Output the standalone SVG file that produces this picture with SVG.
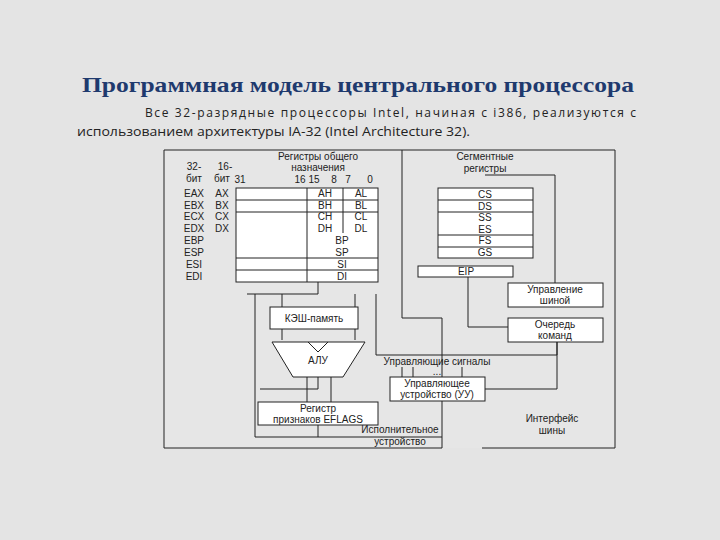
<svg xmlns="http://www.w3.org/2000/svg" width="720" height="540" viewBox="0 0 720 540">
<style>
.t{font-family:"Liberation Sans",Arial,sans-serif;font-size:10px;fill:#222;text-anchor:middle}
.l{fill:none;stroke:#222;stroke-width:1}
.b{fill:#fff;stroke:#222;stroke-width:1}
</style>
<rect width="720" height="540" fill="#e4e4e4"/>
<text x="358" y="92" font-family="'Liberation Serif','DejaVu Serif',serif" font-weight="bold" font-size="22" fill="#1f3a6e" text-anchor="middle" textLength="552" lengthAdjust="spacingAndGlyphs">Программная модель центрального процессора</text>
<text x="145" y="117" font-family="'Open Sans','Liberation Sans',sans-serif" font-size="12" fill="#222" textLength="491" lengthAdjust="spacing">Все 32-разрядные процессоры Intel, начиная с i386, реализуются с</text>
<text x="77" y="136" font-family="'Open Sans','Liberation Sans',sans-serif" font-size="12" fill="#222" textLength="393" lengthAdjust="spacingAndGlyphs">использованием архитектуры IA-32 (Intel Architecture 32).</text>
<rect x="164" y="150" width="451" height="298" fill="#e6e6e6" stroke="none"/>
<g id="connectors" class="l">
<path d="M164 448V150H615V448H482"/>
<path d="M442 448H164"/>
<path d="M402 150V318H442V377"/>
<path d="M318 282V294H247"/>
<path d="M255 294V437H442"/>
<path d="M282 294V340M355 294V340"/>
<path d="M376 294V355H557V327M557 342V389H485"/>
<path d="M307 377V402M318 377V389H260M331 377V402"/>
<path d="M318 425V437"/>
<path d="M442 401V448"/>
<path d="M402 367V377M413 367V377M462 367V377"/>
<path d="M468 277V327H508"/>
<path d="M485 175H555V283"/>
</g>
<g id="gp-registers">
<text class="t" x="318" y="160">Регистры общего</text>
<text class="t" x="318" y="171">назначения</text>
<text class="t" x="240" y="183">31</text>
<text class="t" x="307" y="183">16 15</text>
<text class="t" x="334" y="183">8</text>
<text class="t" x="348" y="183">7</text>
<text class="t" x="370" y="183">0</text>
<text class="t" x="194" y="170">32-</text><text class="t" x="194" y="182">бит</text>
<text class="t" x="225" y="170">16-</text><text class="t" x="222" y="182">бит</text>
<rect class="b" x="236" y="188" width="142" height="94"/>
<path class="l" d="M236 200H378M236 212H378M236 258H378M236 270H378M307 188V282M343 188V233"/>
<text class="t" x="194" y="197">EAX</text><text class="t" x="194" y="209">EBX</text><text class="t" x="194" y="220">ECX</text><text class="t" x="194" y="232">EDX</text>
<text class="t" x="194" y="244">EBP</text><text class="t" x="194" y="256">ESP</text><text class="t" x="194" y="268">ESI</text><text class="t" x="194" y="280">EDI</text>
<text class="t" x="222" y="197">AX</text><text class="t" x="222" y="209">BX</text><text class="t" x="222" y="220">CX</text><text class="t" x="222" y="232">DX</text>
<text class="t" x="325" y="197">AH</text><text class="t" x="361" y="197">AL</text>
<text class="t" x="325" y="209">BH</text><text class="t" x="361" y="209">BL</text>
<text class="t" x="325" y="220">CH</text><text class="t" x="361" y="220">CL</text>
<text class="t" x="325" y="232">DH</text><text class="t" x="361" y="232">DL</text>
<text class="t" x="342" y="244">BP</text><text class="t" x="342" y="256">SP</text>
<text class="t" x="342" y="268">SI</text><text class="t" x="342" y="280">DI</text>
</g>
<g id="seg-registers">
<text class="t" x="485" y="160">Сегментные</text>
<text class="t" x="485" y="172">регистры</text>
<rect class="b" x="438" y="188" width="95" height="70"/>
<path class="l" d="M438 200H533M438 212H533M438 235H533M438 247H533"/>
<text class="t" x="485" y="198">CS</text><text class="t" x="485" y="210">DS</text><text class="t" x="485" y="221">SS</text>
<text class="t" x="485" y="233">ES</text><text class="t" x="485" y="244">FS</text><text class="t" x="485" y="256">GS</text>
</g>
<g id="eip"><rect class="b" x="418" y="266" width="95" height="11"/><text class="t" x="466" y="275">EIP</text></g>
<g id="bus-ctrl"><rect class="b" x="508" y="283" width="95" height="24"/><text class="t" x="555" y="293">Управление</text><text class="t" x="555" y="304">шиной</text></g>
<g id="queue"><rect class="b" x="508" y="318" width="95" height="24"/><text class="t" x="555" y="328">Очередь</text><text class="t" x="555" y="339">команд</text></g>
<g id="cache"><rect class="b" x="270" y="307" width="88" height="22"/><text class="t" x="314" y="322">КЭШ-память</text></g>
<g id="alu"><path class="b" d="M272 342H365L343 377H293Z"/><path class="l" d="M308 342L318 352L328 342"/><text class="t" x="318" y="364">АЛУ</text></g>
<g id="flags"><rect class="b" x="258" y="402" width="120" height="23"/><text class="t" x="318" y="412">Регистр</text><text class="t" x="318" y="423">признаков EFLAGS</text></g>
<g id="cu"><text class="t" x="437" y="365">Управляющие сигналы</text><text class="t" x="437" y="375" font-size="7">...</text>
<rect class="b" x="390" y="377" width="95" height="24"/><text class="t" x="437" y="387">Управляющее</text><text class="t" x="437" y="398">устройство (УУ)</text></g>
<g id="labels"><text class="t" x="400" y="433">Исполнительное</text><text class="t" x="400" y="445">устройство</text>
<text class="t" x="552" y="422">Интерфейс</text><text class="t" x="552" y="434">шины</text></g>
</svg>
